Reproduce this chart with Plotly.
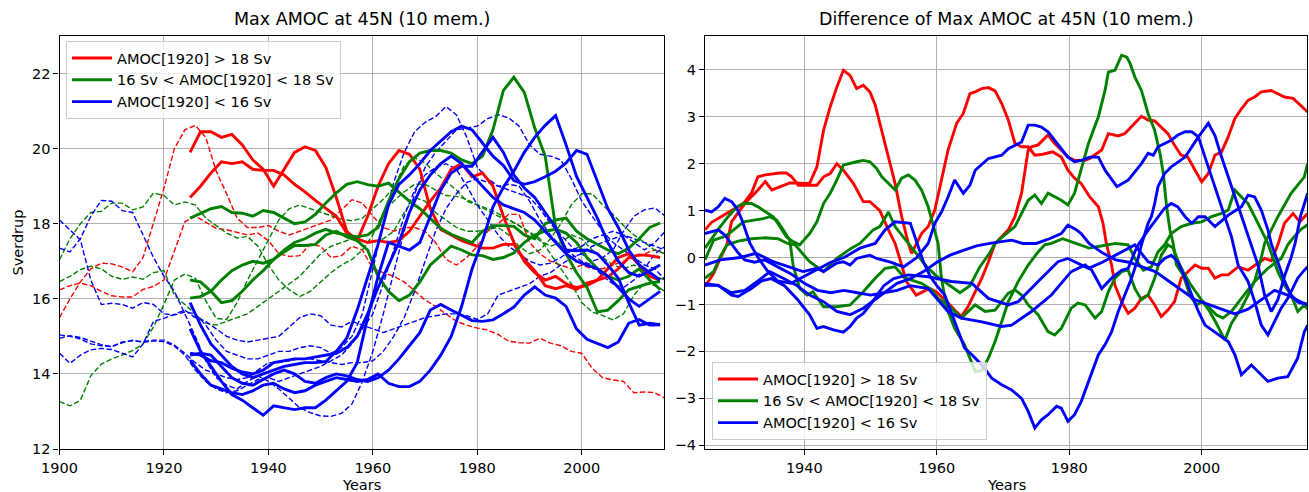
import plotly.graph_objects as go

# ---------------- data: left panel ----------------
# dashed runs (start 1900), sampled every 2 years 1900..2016
YEARS_FULL = list(range(1900, 2017, 2))

RED_DASH_1 = [15.5, 16.0, 16.45, 16.8, 16.95, 16.93, 16.85, 16.72, 17.1,
              18.0, 18.95, 20.0, 20.5, 20.62, 20.3, 19.4, 18.8, 18.15,
              17.9, 17.9, 17.95, 17.8, 17.7, 17.8, 17.9, 18.0, 18.1,
              18.37, 18.64, 18.55, 18.2, 17.9, 17.8, 17.9, 17.9, 17.8,
              17.5, 17.05, 16.9, 17.1, 17.4, 17.8, 18.0, 18.25, 18.25,
              17.5, 17.2, 17.0, 16.9, 16.8, 16.9, 16.8, 16.8, 16.9,
              17.0, 17.1, 17.2, 17.3, 17.2]
RED_DASH_2 = [16.24, 16.35, 16.42, 16.35, 16.2, 16.08, 16.05, 16.05, 16.25,
              16.33, 16.5, 17.3, 18.05, 18.2, 18.05, 17.88, 17.84, 17.78,
              17.7, 17.75, 17.55, 17.2, 17.13, 17.15, 17.45, 17.4, 17.1,
              17.15, 17.4, 17.3, 16.8, 16.7, 16.6, 16.45, 16.2, 15.97,
              15.8, 15.6, 15.4, 15.3, 15.22, 15.17, 15.05, 14.87, 14.83,
              14.82, 14.95, 14.82, 14.75, 14.6, 14.55, 14.15, 13.9, 13.84,
              13.8, 13.5, 13.52, 13.5, 13.35]
GREEN_DASH_1 = [17.04, 17.6, 18.0, 18.3, 18.33, 18.55, 18.55, 18.37, 18.45,
                18.82, 18.75, 18.5, 18.58, 18.5, 18.15, 17.95, 17.75, 17.62,
                17.66, 17.4, 16.9, 16.5, 16.24, 16.06, 16.2, 16.45, 16.7,
                16.9, 17.05, 17.3, 17.7, 18.3, 18.6, 18.85, 19.05, 19.05,
                18.9, 18.75, 18.73, 18.65, 18.5, 18.35, 18.2, 18.1, 17.95,
                17.75, 17.55, 17.4, 17.5, 17.7, 17.6, 17.3, 17.1, 16.9,
                16.8, 16.9, 16.8, 16.6, 16.5]
GREEN_DASH_2 = [16.46, 16.6, 16.78, 16.87, 16.8, 16.6, 16.52, 16.58, 16.52,
                16.7, 16.75, 16.1, 15.85, 15.6, 15.35, 15.3, 15.4, 15.5,
                15.6, 15.8, 16.0, 16.2, 16.4, 16.6, 16.9, 17.2, 17.4,
                17.5, 17.6, 17.55, 17.5, 17.6, 17.8, 18.3, 18.7, 18.6,
                18.3, 18.1, 17.9, 17.8, 17.8, 17.85, 17.9, 17.7, 17.4,
                17.2, 17.3, 17.6, 18.0, 18.5, 18.8, 18.8, 18.5, 18.25,
                17.95, 17.7, 17.5, 17.3, 17.2]
GREEN_DASH_3 = [13.26, 13.15, 13.3, 13.95, 14.26, 14.4, 14.5, 14.62, 14.8,
                15.25, 15.85, 16.5, 16.66, 16.55, 15.95, 15.48, 15.45, 15.9,
                16.5, 17.04, 17.6, 18.1, 18.4, 18.5, 18.4, 18.3, 18.2,
                18.12, 18.08, 18.15, 18.4, 18.65, 18.95, 19.55, 19.75, 19.62,
                19.35, 19.13, 18.9, 18.6, 18.5, 18.4, 18.27, 18.12, 17.95,
                17.78, 17.6, 17.2, 16.8, 16.4, 15.9, 15.65, 15.55, 15.44,
                15.6, 16.1, 16.42, 16.35, 16.2]
BLUE_DASH_1 = [18.1, 17.84, 17.57, 16.5, 15.85, 15.88, 15.85, 15.75, 15.9,
               15.85, 15.6, 15.57, 15.65, 15.6, 15.3, 14.9, 14.6, 14.5,
               14.4, 14.4, 14.5, 14.6, 14.6, 14.7, 14.75, 14.7, 14.55,
               14.7, 15.0, 15.6, 16.8, 18.0, 19.1, 19.9, 20.45, 20.7,
               20.85, 21.12, 20.9, 20.3, 19.5, 19.2, 19.0, 18.9, 18.8,
               18.7, 18.4, 18.0, 17.7, 17.4, 17.2, 17.0, 17.1, 17.3,
               17.8, 18.2, 18.37, 18.42, 18.2]
BLUE_DASH_2 = [17.35, 17.25, 17.6, 18.2, 18.62, 18.6, 18.35, 18.3, 17.7,
               17.1, 16.6, 16.2, 15.6, 15.0, 14.35, 13.9, 13.7, 13.6,
               13.8, 13.95, 13.8, 13.6, 13.35, 13.1, 12.97, 12.88, 12.87,
               12.95, 13.2, 13.8, 14.6, 15.6, 16.7, 17.8, 18.8, 19.5,
               19.9, 20.2, 20.5, 20.55, 20.6, 20.8, 20.9, 20.82, 20.6,
               20.1, 19.85, 19.8, 19.7, 19.2, 18.6, 18.2, 17.8, 17.5,
               17.3, 17.1, 16.9, 16.8, 16.5]
BLUE_DASH_3 = [15.04, 15.0, 14.93, 14.8, 14.75, 14.73, 14.85, 14.88, 14.86,
               14.9, 14.9, 14.77, 14.55, 14.3, 14.1, 14.0, 13.9, 13.85,
               13.9, 14.1, 14.3, 14.3, 14.35, 14.4, 14.4, 14.35, 14.3,
               14.25, 14.3, 14.3, 14.35, 14.6, 15.0, 15.5, 16.2, 17.0,
               17.8, 18.4, 18.8, 19.1, 19.2, 19.1, 19.0, 19.05, 19.0,
               18.6, 18.1, 17.7, 17.4, 17.2, 17.0, 16.9, 16.6, 16.4,
               16.3, 16.5, 16.8, 17.2, 17.4]
BLUE_DASH_4 = [14.55, 14.28, 14.5, 14.64, 14.68, 14.65, 14.55, 14.45, 14.8,
               15.4, 15.48, 15.6, 15.7, 15.5, 15.4, 15.2, 15.0, 14.9,
               14.85, 14.9, 14.95, 15.0, 15.25, 15.5, 15.6, 15.55, 15.3,
               15.25, 15.4, 15.3, 15.2, 15.1, 15.2, 15.3, 15.4, 15.5,
               15.55, 15.6, 15.6, 15.55, 15.45, 15.6, 16.1, 16.2, 16.3,
               16.4, 16.6, 16.7, 16.9, 17.1, 17.2, 17.4, 17.5, 17.6,
               17.7, 17.6, 17.5, 17.4, 17.3]
BLUE_DASH_5 = [14.95, 15.02, 14.97, 14.87, 14.78, 14.72, 14.83, 14.9, 14.84,
               14.88, 14.86, 14.74, 14.5, 14.1, 13.8, 13.6, 13.5, 13.55,
               13.7, 13.85, 13.9, 13.8, 13.9, 14.0, 14.1, 14.2, 14.35,
               14.5, 14.8, 15.2, 15.6, 16.4, 17.3, 18.2, 18.9, 19.3,
               19.5, 19.6, 19.45, 19.0, 18.5, 18.1, 17.7, 17.4, 17.2,
               17.0, 16.9, 16.95, 17.1, 17.3, 17.4, 17.6, 17.7, 17.8,
               17.7, 17.5, 17.3, 17.5, 17.8]

# solid runs (start 1925), sampled every 2 years 1925..2015
YEARS_RUN = list(range(1925, 2016, 2))

RED_SOLID_1 = [19.9, 20.45, 20.45, 20.3, 20.38, 20.1, 19.7, 19.45, 19.0,
               19.45, 19.9, 20.05, 19.95, 19.5, 18.7, 17.8, 17.55, 18.2,
               19.0, 19.6, 19.95, 19.85, 19.45, 18.4, 17.85, 17.7, 17.55,
               17.45, 17.35, 17.35, 17.45, 17.45, 17.05, 16.75, 16.35, 16.27,
               16.35, 16.25, 16.42, 16.5, 16.58, 16.8, 17.1, 17.17, 17.15,
               17.1]
RED_SOLID_2 = [18.7, 19.0, 19.35, 19.65, 19.6, 19.65, 19.45, 19.42, 19.42,
               19.3, 19.05, 18.85, 18.62, 18.42, 18.2, 17.75, 17.6, 17.5,
               17.55, 17.5, 17.55, 17.8, 18.2, 18.6, 18.95, 19.45, 19.6,
               19.25, 19.35, 19.0, 18.2, 17.5, 17.0, 16.7, 16.5, 16.6,
               16.4, 16.3, 16.35, 16.5, 16.8, 17.1, 17.2, 16.9, 16.6,
               16.5]
GREEN_SOLID_1 = [18.15, 18.28, 18.4, 18.46, 18.3, 18.28, 18.2, 18.35, 18.3,
                 18.15, 18.0, 18.05, 18.25, 18.55, 18.82, 19.05, 19.12, 19.04,
                 19.0, 19.08, 18.85, 18.6, 18.4, 18.15, 17.88, 17.72, 17.62,
                 17.5, 17.8, 17.95, 17.95, 17.93, 17.7, 17.6, 18.0, 18.1,
                 18.15, 17.8, 17.6, 17.45, 17.3, 17.2, 17.35, 17.6, 17.9,
                 18.02]
GREEN_SOLID_2 = [16.5, 16.45, 16.2, 15.9, 15.95, 16.2, 16.5, 16.75, 17.05,
                 17.25, 17.42, 17.42, 17.45, 17.7, 17.8, 17.65, 17.55, 17.3,
                 16.6, 16.2, 15.95, 16.1, 16.45, 16.9, 17.15, 17.4, 17.3,
                 17.17, 17.15, 17.05, 17.1, 17.22, 17.5, 17.7, 17.8, 17.85,
                 17.75, 17.5, 17.1, 16.8, 16.6, 16.5, 16.6, 16.8, 16.5,
                 16.25]
GREEN_SOLID_3 = [16.02, 16.06, 16.2, 16.5, 16.75, 16.9, 17.0, 16.95, 17.05,
                 17.3, 17.5, 17.6, 17.75, 17.85, 17.75, 17.7, 17.65, 17.7,
                 17.9, 18.6, 19.2, 19.65, 19.88, 19.95, 19.95, 19.88, 19.7,
                 19.6, 19.8, 20.5, 21.55, 21.9, 21.5, 20.55, 19.8, 17.9,
                 17.2, 16.7, 16.3, 15.65, 15.7, 15.95, 16.24, 16.33, 16.42,
                 16.46]
BLUE_SOLID_1 = [15.9, 15.3, 14.8, 14.5, 14.2, 14.0, 13.9, 14.0, 14.1,
                14.2, 14.25, 14.3, 14.3, 14.33, 14.6, 14.95, 15.7, 16.6,
                17.45, 18.5, 19.05, 19.3, 19.6, 19.95, 20.2, 20.45, 20.6,
                20.5, 20.15, 19.8, 19.55, 19.15, 19.05, 19.12, 19.25, 19.4,
                19.62, 19.95, 19.85, 19.1, 18.4, 17.9, 17.3, 16.9, 16.7,
                16.5]
BLUE_SOLID_2 = [15.2, 14.6, 14.2, 13.8, 13.45, 13.3, 13.1, 12.9, 13.15,
                13.1, 13.05, 13.1, 13.1, 13.3, 13.55, 13.8, 14.3, 15.5,
                16.6, 17.5, 17.4, 17.3, 17.5, 18.2, 18.9, 19.35, 19.53,
                19.53, 19.9, 20.3, 19.9, 19.3, 18.95, 18.7, 18.3, 17.9,
                17.3, 17.28, 17.3, 17.2, 16.9, 16.55, 15.9, 15.3, 15.35,
                15.31]
BLUE_SOLID_3 = [14.5, 14.55, 14.5, 14.2, 13.9, 13.75, 13.7, 13.85, 14.0,
                14.1, 14.0, 13.8, 13.75, 13.9, 14.0, 13.95, 13.85, 13.8,
                13.9, 14.1, 14.4, 14.75, 15.1, 15.7, 15.85, 15.7, 15.55,
                15.42, 15.4, 15.44, 15.6, 15.78, 16.1, 16.32, 16.1, 16.02,
                15.8, 15.2, 14.92, 14.8, 14.7, 14.85, 15.35, 15.45, 15.3,
                15.31]
BLUE_SOLID_4 = [14.37, 14.0, 13.7, 13.6, 13.5, 13.45, 13.55, 13.7, 13.75,
                13.6, 13.5, 13.55, 13.7, 13.8, 13.9, 13.85, 13.8, 13.85,
                14.0, 13.75, 13.66, 13.66, 13.8, 14.1, 14.5, 15.0, 15.8,
                16.8, 17.55, 18.45, 18.97, 19.4, 19.9, 20.3, 20.62, 20.88,
                20.1, 19.26, 18.7, 18.15, 17.5, 17.0, 16.7, 16.6, 16.75,
                16.9]
BLUE_SOLID_5 = [14.55, 14.5, 14.35, 14.3, 14.15, 14.05, 14.0, 14.1, 14.3,
                14.35, 14.4, 14.4, 14.45, 14.5, 14.55, 14.7, 15.0, 15.6,
                16.3, 16.9, 17.5, 18.3, 18.9, 19.3, 19.6, 19.8, 19.6,
                19.3, 19.0, 18.7, 18.5, 18.4, 18.3, 18.1, 17.8, 17.5,
                17.2, 17.0, 16.9, 16.8, 16.6, 16.3, 16.0, 15.8, 16.0,
                16.2]

# ---------------- data: right panel (differences) ----------------
RED_DIFF_1_X = [1925, 1926, 1927.8, 1929, 1930.8, 1932, 1933, 1934.1, 1936.3, 1937.3,
                1938.1, 1939.1, 1941.9, 1942.9, 1943.9, 1944.9, 1945.9, 1947.4, 1948.9, 1949.9,
                1951.4, 1952.7, 1953.7, 1954.4, 1955.4, 1956.9, 1958.9, 1959.9, 1961.5, 1962.7,
                1963.7, 1964.7, 1965.8, 1966.8, 1967.8, 1968.8, 1970.8, 1971.8, 1972.8, 1973.8,
                1974.3, 1975.3, 1976.8, 1977.8, 1978.8, 1979.8, 1980.8, 1982.4, 1983.1, 1984.9,
                1985.9, 1987.4, 1988.4, 1989.4, 1990.9, 1991.9, 1992.9, 1994.9, 1995.9, 1996.9,
                1997.9, 1999, 2000, 2001, 2002, 2003, 2004, 2005, 2006, 2007,
                2008, 2009, 2010.5, 2011.5, 2012.5, 2013.8, 2015, 2016]
RED_DIFF_1_Y = [0.59, 0.75, 0.9, 1.0, 1.15, 1.37, 1.72, 1.76, 1.8, 1.8,
                1.72, 1.54, 1.54, 1.72, 1.79, 2.0, 1.86, 1.58, 1.19, 1.19,
                1.0, 0.59, 0.3, -0.02, -0.51, -0.8, -0.66, -0.73, -0.94, -1.12,
                -1.26, -1.05, -0.73, -0.44, -0.09, 0.3, 0.59, 0.87, 1.37, 2.29,
                2.36, 2.4, 2.61, 2.43, 2.29, 2.14, 2.07, 2.07, 2.11, 2.29,
                2.64, 2.59, 2.64, 2.78, 3.01, 2.93, 2.91, 2.64, 2.39, 2.18,
                2.14, 1.86, 1.61, 1.79, 2.18, 2.25, 2.57, 2.96, 3.17, 3.35,
                3.42, 3.53, 3.56, 3.49, 3.42, 3.39, 3.24, 3.1]
RED_DIFF_2_X = [1925, 1926.3, 1927.3, 1928.3, 1929, 1931, 1933, 1934.1, 1935.1, 1937.8,
                1940.8, 1941.9, 1942.9, 1943.9, 1944.9, 1945.9, 1946.9, 1947.9, 1948.9, 1949.9,
                1950.7, 1951.7, 1952.7, 1953.7, 1954.7, 1955.7, 1956.2, 1957.2, 1957.7, 1958.7,
                1959.7, 1960.7, 1961.7, 1963, 1964, 1965, 1965.8, 1966.8, 1967.8, 1968.8,
                1969.8, 1970.8, 1971.8, 1972.8, 1973.8, 1974.8, 1976, 1977.5, 1978.8, 1979.8,
                1980.8, 1981.8, 1983.1, 1984.4, 1985.1, 1985.6, 1986.4, 1986.9, 1987.9, 1988.9,
                1989.9, 1990.9, 1991.9, 1992.9, 1993.9, 1994.9, 1995.9, 1996.9, 1997.9, 1999,
                2000, 2001, 2002, 2003, 2004, 2005.5, 2007, 2008.5, 2009.5, 2010.5,
                2011.5, 2012.5, 2013.8, 2014.8, 2016]
RED_DIFF_2_Y = [-0.62, -0.34, -0.02, 0.27, 0.76, 1.15, 1.44, 1.62, 1.44, 1.59,
                1.58, 1.93, 2.71, 3.21, 3.63, 3.99, 3.88, 3.6, 3.67, 3.53,
                3.25, 2.71, 2.14, 1.58, 0.87, 0.3, 0.09, 0.35, 0.51, 0.66,
                1.01, 1.65, 2.29, 2.86, 3.07, 3.49, 3.53, 3.6, 3.62, 3.55,
                3.28, 2.93, 2.43, 2.36, 2.36, 2.18, 2.2, 2.25, 2.14, 1.86,
                1.69, 1.58, 1.29, 1.08, 0.73, 0.3, -0.16, -0.59, -0.94, -1.19,
                -1.08, -0.87, -0.8, -1.01, -1.26, -1.12, -0.94, -0.44, -0.3, -0.16,
                -0.23, -0.23, -0.44, -0.37, -0.37, -0.2, -0.27, -0.12, -0.02, -0.07,
                0.27, 0.73, 0.94, 0.76, 0.94]

GREEN_DIFF_1_X = [1925, 1927.3, 1928.5, 1929.8, 1930.8, 1932, 1933, 1934.3, 1935.3, 1936.3,
                  1937.3, 1938.3, 1939.3, 1940.8, 1941.9, 1942.9, 1943.9, 1944.9, 1945.9, 1947.9,
                  1948.9, 1949.9, 1950.9, 1951.7, 1953.7, 1954.7, 1955.7, 1956.7, 1957.7, 1958.7,
                  1959.7, 1960.2, 1960.7, 1961.5, 1962.7, 1964.2, 1965.8, 1966.8, 1967.8, 1968.8,
                  1969.8, 1970.8, 1972.3, 1973.8, 1975.3, 1976.3, 1977.3, 1979, 1981, 1983,
                  1985, 1987, 1988.9, 1989.9, 1991.2, 1992.4, 1993.4, 1994.4, 1995.4, 1996.9,
                  1998.5, 2000, 2001.5, 2003, 2004, 2005, 2006, 2007, 2008, 2009,
                  2010, 2011.5, 2012.5, 2013.5, 2014.5, 2015.5, 2016]
GREEN_DIFF_1_Y = [0.2, 0.66, 0.87, 1.08, 1.15, 1.15, 1.08, 0.97, 0.87, 0.66,
                  0.44, 0.34, 0.27, 0.51, 0.76, 1.15, 1.37, 1.65, 1.97, 2.04,
                  2.07, 2.04, 1.9, 1.72, 1.44, 1.69, 1.76, 1.65, 1.44, 1.08,
                  0.59, 0.3, -0.44, -1.08, -1.51, -1.86, -2.43, -2.41, -2.14, -1.79,
                  -1.37, -0.94, -0.51, -0.16, 0.12, 0.27, 0.3, 0.4, 0.3, 0.2,
                  0.25, 0.3, 0.27, -0.02, -0.27, -0.2, 0.12, 0.27, 0.51, 0.66,
                  0.73, 0.76, 0.87, 0.94, 1.01, 1.44, 1.29, 1.15, 0.87, 0.59,
                  0.3, -0.3, -0.59, -0.8, -1.15, -1.01, -1.1]
GREEN_DIFF_2_X = [1925, 1926.3, 1928, 1929, 1930.8, 1933.8, 1934.8, 1935.8, 1936.8, 1937.8,
                  1938.3, 1939.3, 1940.4, 1941.3, 1942.9, 1944.9, 1946.9, 1948.9, 1950.7, 1952.2,
                  1953.7, 1955.2, 1956.2, 1957.7, 1959.2, 1960.2, 1962.2, 1963.7, 1965.8, 1967.3,
                  1968.8, 1970.8, 1971.8, 1972.8, 1973.8, 1975.3, 1976.8, 1977.8, 1978.8, 1980.3,
                  1981.3, 1982.4, 1983.9, 1984.9, 1985.9, 1986.9, 1987.9, 1988.9, 1989.9, 1990.9,
                  1991.9, 1992.9, 1993.9, 1994.9, 1995.7, 1996.5, 1997.2, 1998.2, 1999.2, 2000.2,
                  2001.2, 2002.2, 2003.5, 2004.5, 2006, 2007, 2008, 2009, 2009.5, 2011.5,
                  2013.5, 2015.5, 2016]
GREEN_DIFF_2_Y = [-0.05, 0.37, 0.45, 0.55, 0.76, 0.83, 0.87, 0.8, 0.59, 0.37,
                  -0.16, -0.66, -0.8, -0.73, -1.05, -1.05, -1.01, -0.73, -0.44, -0.23,
                  -0.2, -0.44, -0.48, -0.55, -0.69, -0.87, -1.08, -1.29, -1.01, -1.15,
                  -1.12, -0.76, -0.69, -0.8, -1.01, -1.22, -1.58, -1.65, -1.51, -1.08,
                  -0.97, -1.01, -1.29, -1.15, -0.73, -0.44, -0.3, -0.27, -0.66, -0.9,
                  -0.8, -0.44, 0.05, 0.27, 0.2, -0.1, -0.3, -0.55, -0.75, -0.95,
                  -1.15, -1.4, -1.76, -1.4, -1.08, -0.8, -0.5, 0.0, 0.3, 0.87,
                  1.37, 1.72, 2.0]
GREEN_DIFF_3_X = [1925, 1926.3, 1927.3, 1928.3, 1930, 1932, 1934, 1936, 1937.5, 1938.6,
                  1940.8, 1942.9, 1944.9, 1947.1, 1948.4, 1950.4, 1951.4, 1952.7, 1953.7, 1955.7,
                  1957, 1958.5, 1960, 1962, 1963.5, 1965, 1966.5, 1968, 1968.8, 1970,
                  1971.8, 1973.8, 1974.8, 1975.8, 1976.8, 1978.8, 1979.8, 1980.8, 1981.8, 1982.9,
                  1984.4, 1985.4, 1985.9, 1986.9, 1987.9, 1988.7, 1989.2, 1989.9, 1990.9, 1991.9,
                  1992.9, 1993.7, 1994.2, 1994.7, 1995.2, 1995.7, 1996.2, 1997.2, 1998.2, 1999.2,
                  2000.2, 2001.2, 2002.2, 2003.2, 2004.5, 2006, 2008, 2010, 2012, 2013,
                  2014, 2015, 2016]
GREEN_DIFF_3_Y = [-0.44, -0.3, 0.02, 0.27, 0.35, 0.4, 0.42, 0.4, 0.3, 0.27,
                  -0.09, -0.3, -0.02, 0.2, 0.3, 0.59, 0.66, 0.97, 0.66, 0.3,
                  0.05, -0.2, -0.4, -0.6, -0.75, -0.6, -0.2, 0.1, 0.3, 0.45,
                  0.66, 1.22, 1.33, 1.15, 1.37, 1.22, 1.12, 1.37, 1.86, 2.43,
                  3.0, 3.56, 3.95, 3.99, 4.31, 4.27, 4.13, 3.85, 3.56, 3.07,
                  2.71, 2.22, 1.79, 1.08, 0.59, 0.3, -0.16, -0.37, -0.8, -1.01,
                  -0.94, -1.08, -1.22, -1.29, -1.15, -0.87, -0.51, -0.23, -0.02, 0.27,
                  0.45, 0.6, 0.7]

BLUE_DIFF_1_X = [1925, 1926, 1927, 1928, 1929, 1929.8, 1930.5, 1931.3, 1931.8, 1933,
                 1934.5, 1936, 1938, 1940, 1942, 1944, 1946, 1948.4, 1950.7, 1952.2,
                 1953.7, 1956, 1956.7, 1957.2, 1958, 1959, 1960, 1961.2, 1963.2, 1964.2,
                 1965.3, 1966.8, 1968.3, 1969.8, 1971.3, 1972.8, 1973.8, 1974.8, 1975.8, 1976.8,
                 1978.1, 1978.8, 1979.8, 1980.8, 1981.8, 1982.9, 1983.4, 1984.4, 1985.4, 1986.4,
                 1987.4, 1988.4, 1989.4, 1990.4, 1990.9, 1991.9, 1992.4, 1992.9, 1993.4, 1994.4,
                 1995.4, 1997.5, 1999.5, 2001, 2002, 2003, 2005, 2007, 2007.5, 2008.5,
                 2009.5, 2010.5, 2011.5, 2012.5, 2013.5, 2014.1, 2014.9, 2016]
BLUE_DIFF_1_Y = [1.01, 0.97, 1.08, 1.26, 1.19, 1.05, 0.83, 0.51, 0.3, 0.0,
                 -0.3, -0.5, -0.55, -0.4, -0.25, -0.1, 0.0, 0.2, 0.3, 0.59,
                 0.76, 0.73, 0.44, 0.23, -0.1, -0.4, -0.6, -0.8, -1.58, -1.93,
                 -2.07, -2.29, -2.57, -2.71, -2.82, -3.0, -3.28, -3.63, -3.46, -3.35,
                 -3.17, -3.21, -3.49, -3.35, -3.07, -2.64, -2.43, -2.07, -1.86, -1.58,
                 -1.15, -0.8, -0.44, -0.02, 0.27, 0.73, 0.87, 1.15, 1.51, 1.79,
                 1.93, 2.14, 2.57, 2.86, 2.6, 2.14, 1.29, 0.44, 0.23, -0.16,
                 -0.8, -1.15, -0.9, -0.4, 0.0, 0.3, 0.87, 1.37]
BLUE_DIFF_2_X = [1925, 1927, 1928, 1929, 1930, 1931, 1932.5, 1934, 1936, 1938,
                 1940, 1942, 1944, 1946, 1948, 1950, 1952, 1954, 1956, 1958.7,
                 1961.7, 1963.7, 1966.8, 1969.8, 1971.3, 1974.3, 1977.3, 1980.3, 1982.4, 1983.4,
                 1984.9, 1986.4, 1987.9, 1988.9, 1989.9, 1990.4, 1992, 1993.4, 1994.4, 1995.4,
                 1996.4, 1997.5, 1998.5, 1999.5, 2000.5, 2002, 2004, 2006, 2007, 2008,
                 2009, 2010, 2010.5, 2011.5, 2012.5, 2013.5, 2014.5, 2016]
BLUE_DIFF_2_Y = [0.51, 0.59, 0.48, 0.3, 0.1, -0.05, -0.1, -0.05, -0.2, -0.35,
                 -0.55, -0.7, -0.75, -0.7, -0.75, -0.8, -0.75, -0.7, -0.6, -0.66,
                 -1.15, -1.29, -1.37, -1.47, -1.44, -1.15, -0.8, -0.3, -0.16, -0.27,
                 -0.66, -0.44, -0.27, -0.23, 0.12, 0.27, 0.6, 0.87, 1.05, 1.15,
                 1.08, 0.87, 0.73, 0.87, 0.87, 0.66, 0.9, 1.08, 1.33, 1.29,
                 1.01, 0.59, 0.3, -0.1, -0.5, -0.8, -0.95, -1.0]
BLUE_DIFF_3_X = [1925, 1927.3, 1930.3, 1932.7, 1935.3, 1938.3, 1939.8, 1941.9, 1942.9, 1944.9,
                 1945.9, 1946.9, 1947.9, 1949.9, 1950.9, 1953, 1955, 1957, 1958.7, 1959.7,
                 1960.7, 1961.7, 1962.7, 1964, 1965, 1965.8, 1967.8, 1969.8, 1970.8, 1972.8,
                 1973.8, 1974.8, 1975.8, 1976.8, 1977.8, 1978.8, 1979.8, 1980.8, 1981.8, 1983.1,
                 1984.4, 1985.4, 1986.4, 1987.2, 1988.9, 1990.9, 1991.9, 1992.7, 1993.4, 1995.4,
                 1996.4, 1997.5, 1998.5, 1999.5, 2000.5, 2001.5, 2002.5, 2003.5, 2004.5, 2005.5,
                 2007, 2008, 2009, 2010, 2011, 2012, 2013, 2014.5, 2015.5, 2016]
BLUE_DIFF_3_Y = [-0.16, -0.05, 0.0, 0.09, -0.09, -0.23, -0.3, -0.23, -0.3, -0.12,
                 -0.09, -0.16, -0.02, 0.05, -0.02, -0.1, -0.2, 0.0, 0.3, 0.73,
                 0.97, 1.29, 1.65, 1.37, 1.54, 1.86, 2.11, 2.18, 2.32, 2.46,
                 2.82, 2.82, 2.78, 2.68, 2.5, 2.32, 2.14, 2.04, 2.07, 2.14,
                 2.14, 1.86, 1.65, 1.51, 1.65, 2.0, 2.22, 2.18, 2.36, 2.5,
                 2.61, 2.68, 2.68, 2.57, 2.14, 1.72, 1.29, 0.87, 0.44, -0.16,
                 -0.51, -0.94, -1.44, -1.65, -1.37, -1.08, -0.87, -0.44, -0.27, -0.2]
BLUE_DIFF_4_X = [1925, 1927, 1929, 1930, 1932, 1933.5, 1935, 1937, 1939, 1940.8,
                 1941.9, 1942.9, 1944.4, 1945.9, 1946.9, 1947.9, 1948.9, 1950, 1951, 1952,
                 1953.5, 1955.7, 1958.7, 1962.2, 1965.3, 1967.8, 1970.8, 1972.3, 1975.3, 1978.3,
                 1979.8, 1982.9, 1985, 1987, 1988.5, 1989.9, 1991.9, 1993.4, 1994.4, 1995.4,
                 1996.4, 1997.5, 1998.5, 1999.5, 2000.5, 2001.5, 2002.5, 2004, 2005, 2006,
                 2007.5, 2010, 2011.5, 2013, 2014.5, 2015.5, 2016]
BLUE_DIFF_4_Y = [-0.59, -0.59, -0.8, -0.83, -0.66, -0.5, -0.45, -0.6, -0.9, -1.22,
                 -1.51, -1.47, -1.54, -1.59, -1.47, -1.29, -1.19, -1.0, -0.8, -0.6,
                 -0.45, -0.37, -0.41, -0.51, -0.55, -0.87, -1.01, -0.94, -0.51, -0.09,
                 -0.02, -0.23, -0.1, 0.05, 0.15, 0.27, -0.09, -0.16, -0.02, 0.05,
                 -0.09, -0.44, -0.8, -1.15, -1.44, -1.54, -1.65, -1.79, -2.07, -2.5,
                 -2.29, -2.64, -2.57, -2.54, -2.14, -1.58, -1.44]
BLUE_DIFF_5_X = [1925, 1927, 1929, 1931, 1933, 1934.8, 1936.8, 1938.8, 1940.8, 1942.9,
                 1944.9, 1946.9, 1948.9, 1950.9, 1952.5, 1954, 1956, 1958, 1960, 1962,
                 1964, 1966, 1968, 1970, 1971.3, 1973, 1975, 1977, 1978.8, 1979.8,
                 1981, 1981.8, 1983, 1985, 1987, 1989, 1991, 1993, 1995, 1997,
                 1999, 2001, 2003, 2005, 2007, 2009, 2011, 2013, 2015, 2016]
BLUE_DIFF_5_Y = [-0.55, -0.6, -0.75, -0.7, -0.5, -0.3, -0.44, -0.59, -0.8, -0.94,
                 -1.15, -1.22, -1.08, -0.87, -0.7, -0.55, -0.45, -0.3, -0.1, 0.05,
                 0.15, 0.25, 0.3, 0.35, 0.37, 0.3, 0.3, 0.4, 0.51, 0.69,
                 0.6, 0.51, 0.3, 0.1, -0.05, -0.1, -0.2, -0.3, -0.5, -0.7,
                 -0.9, -1.0, -1.1, -1.2, -1.1, -0.9, -0.7, -0.8, -0.95, -1.0]

LEGEND_LABELS = ["AMOC[1920] > 18 Sv", "16 Sv < AMOC[1920] < 18 Sv", "AMOC[1920] < 16 Sv"]
COLORS = {"red": "#ff0000", "green": "#008000", "blue": "#0000ff"}

# ---------------- figure ----------------
FONT = "DejaVu Sans"
fig = go.Figure()

dash_sets = [("red", [RED_DASH_1, RED_DASH_2]),
             ("green", [GREEN_DASH_1, GREEN_DASH_2, GREEN_DASH_3]),
             ("blue", [BLUE_DASH_1, BLUE_DASH_2, BLUE_DASH_3, BLUE_DASH_4, BLUE_DASH_5])]
for col, series in dash_sets:
    for s in series:
        fig.add_trace(go.Scatter(x=YEARS_FULL, y=s, mode="lines", xaxis="x", yaxis="y",
                                 line=dict(color=COLORS[col], width=1.4, dash="5.5px,2.4px"),
                                 showlegend=False, hoverinfo="skip"))

solid_sets = [("red", 0, [RED_SOLID_1, RED_SOLID_2]),
              ("green", 1, [GREEN_SOLID_1, GREEN_SOLID_2, GREEN_SOLID_3]),
              ("blue", 2, [BLUE_SOLID_1, BLUE_SOLID_2, BLUE_SOLID_3, BLUE_SOLID_4, BLUE_SOLID_5])]
for col, li, series in solid_sets:
    for k, s in enumerate(series):
        fig.add_trace(go.Scatter(x=YEARS_RUN, y=s, mode="lines", xaxis="x", yaxis="y",
                                 line=dict(color=COLORS[col], width=2.9),
                                 name=LEGEND_LABELS[li], showlegend=(k == 0),
                                 legend="legend", hoverinfo="skip"))

diff_sets = [("red", 0, [(RED_DIFF_1_X, RED_DIFF_1_Y), (RED_DIFF_2_X, RED_DIFF_2_Y)]),
             ("green", 1, [(GREEN_DIFF_1_X, GREEN_DIFF_1_Y), (GREEN_DIFF_2_X, GREEN_DIFF_2_Y),
                           (GREEN_DIFF_3_X, GREEN_DIFF_3_Y)]),
             ("blue", 2, [(BLUE_DIFF_1_X, BLUE_DIFF_1_Y), (BLUE_DIFF_2_X, BLUE_DIFF_2_Y),
                          (BLUE_DIFF_3_X, BLUE_DIFF_3_Y), (BLUE_DIFF_4_X, BLUE_DIFF_4_Y),
                          (BLUE_DIFF_5_X, BLUE_DIFF_5_Y)])]
for col, li, series in diff_sets:
    for k, (xs, ys) in enumerate(series):
        fig.add_trace(go.Scatter(x=xs, y=ys, mode="lines", xaxis="x2", yaxis="y2",
                                 line=dict(color=COLORS[col], width=2.9),
                                 name=LEGEND_LABELS[li], showlegend=(k == 0),
                                 legend="legend2", hoverinfo="skip"))

W, H = 1309, 492
L1, R1 = 59.5, 664.0
L2, R2 = 705.0, 1307.0
TOP, BOT = 36.0, 449.0

axis_common = dict(showline=True, linecolor="black", linewidth=1.2, mirror=True,
                   ticks="outside", ticklen=5, tickwidth=1.2, tickcolor="black",
                   showgrid=True, gridcolor="#b0b0b0", gridwidth=1.2, zeroline=False,
                   automargin=False,
                   tickfont=dict(family=FONT, size=14.5, color="black"))

legend_common = dict(bgcolor="rgba(255,255,255,0.8)", bordercolor="#cccccc", borderwidth=1,
                     itemwidth=40, font=dict(family=FONT, size=14.5, color="black"))

fig.update_layout(
    width=W, height=H,
    margin=dict(l=0, r=0, t=0, b=0, pad=0, autoexpand=False),
    paper_bgcolor="white", plot_bgcolor="white",
    font=dict(family=FONT, size=14.5, color="black"),
    xaxis=dict(domain=[L1 / W, R1 / W], range=[1900, 2015.75], tickvals=[1900, 1920, 1940, 1960, 1980, 2000],
               anchor="y", **axis_common),
    yaxis=dict(domain=[(H - BOT) / H, (H - TOP) / H], range=[12, 23], tickvals=[12, 14, 16, 18, 20, 22],
               anchor="x", **axis_common),
    xaxis2=dict(domain=[L2 / W, R2 / W], range=[1925, 2015.9], tickvals=[1940, 1960, 1980, 2000],
                anchor="y2", **axis_common),
    yaxis2=dict(domain=[(H - BOT) / H, (H - TOP) / H], range=[-4.08, 4.72], tickvals=[-4, -3, -2, -1, 0, 1, 2, 3, 4],
                anchor="x2", **axis_common),
    legend=dict(x=66 / W, y=(H - 41) / H, xanchor="left", yanchor="top", **legend_common),
    legend2=dict(x=712 / W, y=(H - 440) / H, xanchor="left", yanchor="bottom", **legend_common),
    annotations=[
        dict(text="Max AMOC at 45N (10 mem.)", x=(L1 + R1) / 2 / W, y=(H - 19) / H, xref="paper", yref="paper",
             showarrow=False, xanchor="center", yanchor="middle", font=dict(family=FONT, size=17.5)),
        dict(text="Difference of Max AMOC at 45N (10 mem.)", x=(L2 + R2) / 2 / W, y=(H - 19) / H,
             xref="paper", yref="paper", showarrow=False, xanchor="center", yanchor="middle",
             font=dict(family=FONT, size=17.5)),
        dict(text="Years", x=(L1 + R1) / 2 / W, y=(H - 485) / H, xref="paper", yref="paper",
             showarrow=False, xanchor="center", yanchor="middle", font=dict(family=FONT, size=14.5)),
        dict(text="Years", x=(L2 + R2) / 2 / W, y=(H - 485) / H, xref="paper", yref="paper",
             showarrow=False, xanchor="center", yanchor="middle", font=dict(family=FONT, size=14.5)),
        dict(text="Sverdrup", x=17 / W, y=(H - (TOP + BOT) / 2) / H, xref="paper", yref="paper",
             showarrow=False, xanchor="center", yanchor="middle", textangle=-90,
             font=dict(family=FONT, size=14.5)),
    ],
)

fig.write_html("out.html")
